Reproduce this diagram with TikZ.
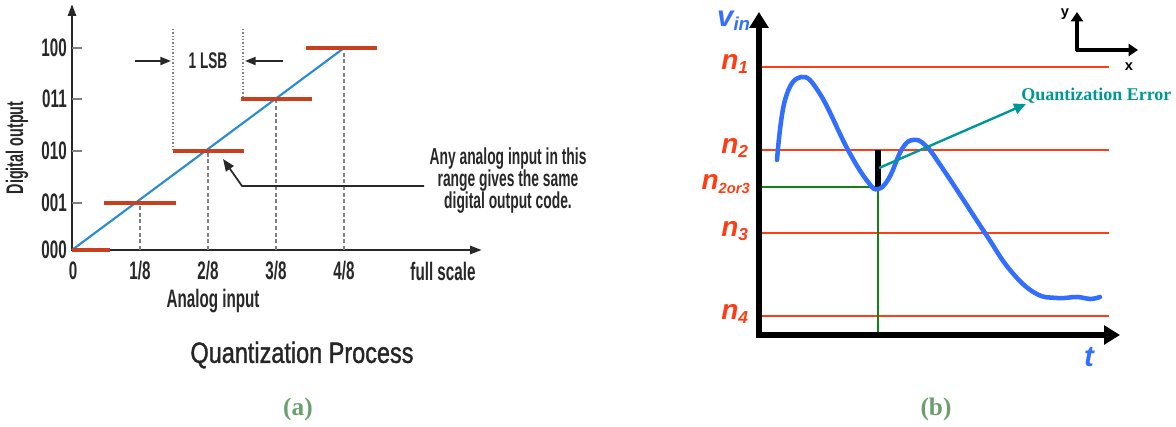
\documentclass[tikz,border=0pt]{standalone}
\usepackage{fontspec}
\setmainfont{Liberation Serif}
\newfontfamily\condb[FakeStretch=0.6]{Liberation Sans Bold}
\newfontfamily\condr[FakeStretch=0.8,FakeBold=1.2]{Liberation Sans}
\newfontfamily\arialbi{Liberation Sans Bold Italic}
\newfontfamily\arialb{Liberation Sans Bold}
\usetikzlibrary{arrows.meta}
\definecolor{barred}{RGB}{200,64,30}
\definecolor{lineblue}{RGB}{40,140,210}
\definecolor{lvlred}{RGB}{255,60,20}
\definecolor{curveblue}{RGB}{50,110,255}
\definecolor{qgreen}{RGB}{20,130,20}
\definecolor{qteal}{RGB}{0,150,150}
\definecolor{capgreen}{RGB}{105,160,110}
\definecolor{axgray}{RGB}{40,40,40}
\tikzset{
  lbl/.style={font=\condb\fontsize{19}{21}\selectfont, text=axgray, inner sep=0pt},
  bar/.style={barred, line width=3pt},
  dashv/.style={gray, line width=0.9pt, dash pattern=on 3pt off 2pt},
  dotv/.style={gray, line width=0.9pt, dash pattern=on 1pt off 1.5pt},
  lvl/.style={lvlred, line width=1.5pt},
  nlab/.style={font=\arialbi\fontsize{21}{23}\selectfont, text=lvlred, inner sep=0pt},
  caption/.style={font=\bfseries\fontsize{19}{21}\selectfont, text=capgreen, inner sep=0pt},
  bigarrow/.style={line width=4pt, -{Triangle[length=12pt,width=14pt]}},
  smallarrow/.style={line width=2.5pt, -{Triangle[length=7pt,width=9pt]}}
}
\begin{document}
\begin{tikzpicture}[x=0.75pt,y=-0.75pt]
\useasboundingbox (0,0) rectangle (1176,427);
% ---------- (a) ----------
\coordinate (O) at (72,250);
\coordinate (xend) at (482,250);
\coordinate (yend) at (72,4);
\draw[axgray, line width=2pt, -{Triangle[length=9pt,width=6pt]}] (O) -- (xend);
\draw[axgray, line width=2pt, -{Triangle[length=9pt,width=6pt]}] (72,251) -- (yend);
% ticks
\foreach \yy in {48,99,151,203} {
  \draw[gray, line width=1pt] (72,\yy) -- (82,\yy);
}
\node[lbl, anchor=east] (y100) at (67,48) {100};
\node[lbl, anchor=east] (y011) at (67,99) {011};
\node[lbl, anchor=east] (y010) at (67,151) {010};
\node[lbl, anchor=east] (y001) at (67,203) {001};
\node[lbl, anchor=east] (y000) at (67,250) {000};
\node[lbl] (x0) at (73,271) {0};
\node[lbl] (x1) at (140,271) {1/8};
\node[lbl] (x2) at (208,271) {2/8};
\node[lbl] (x3) at (276,271) {3/8};
\node[lbl] (x4) at (344,271) {4/8};
\node[lbl] (xfs) at (443,271) {full scale};
\node[lbl] (xlab) at (213,301) {Analog input};
\node[lbl, rotate=90, font=\condb\fontsize{18}{20}\selectfont] (ylab) at (17,148) {Digital output};
% dashed verticals
\draw[dashv] (140,250) -- (140,203);
\draw[dashv] (208,250) -- (208,151);
\draw[dashv] (276,250) -- (276,99);
\draw[dashv] (344,250) -- (344,48);
% dotted verticals
\draw[dotv] (173,29) -- (173,151);
\draw[dotv] (243,29) -- (243,99);
% ideal line
\draw[lineblue, line width=1.6pt] (O) -- (344,48);
% bars
\draw[bar] (72,250) -- (110,250);
\draw[bar] (104,203) -- (176,203);
\draw[bar] (173,151) -- (244,151);
\draw[bar] (241,99) -- (312,99);
\draw[bar] (306,48) -- (377,48);
% 1 LSB
\node[lbl, font=\condb\fontsize{17}{19}\selectfont] (lsb) at (208,61) {1 LSB};
\coordinate (la) at (135,61);
\coordinate (lb) at (171,61);
\coordinate (ra) at (283,61);
\coordinate (rb) at (245,61);
\draw[axgray, line width=1.5pt, -{Triangle[length=8pt,width=6pt]}] (la) -- (lb);
\draw[axgray, line width=1.5pt, -{Triangle[length=8pt,width=6pt]}] (ra) -- (rb);
% annotation
\node[lbl, align=center, font=\condb\fontsize{17.3}{16.5}\selectfont] (note) at (508,181) {Any analog input in this\\range gives the same\\digital output code.};
\coordinate (ann1) at (424,186);
\coordinate (ann2) at (242,186);
\coordinate (ann3) at (223,159);
\draw[axgray, line width=1.3pt, -{Triangle[length=9pt,width=7pt]}] (ann1) -- (ann2) -- (ann3);
\node[font=\condr\fontsize{22}{24}\selectfont, text=black!85, inner sep=0pt] (title) at (302,355) {Quantization Process};
\node[caption] (capa) at (298,409) {(a)};
% ---------- (b) ----------
\coordinate (P) at (759,335);
\draw[lvl] (759,67) -- (1109,67);
\draw[lvl] (759,150) -- (1109,150);
\draw[lvl] (759,233) -- (1109,233);
\draw[lvl] (759,316) -- (1109,316);
\node[nlab] (n1) at (735,64) {n\textsubscript{\fontsize{13}{14}\selectfont 1}};
\node[nlab] (n2) at (735,148) {n\textsubscript{\fontsize{13}{14}\selectfont 2}};
\node[nlab] (n23) at (726,184) {n\textsubscript{\fontsize{11}{12}\selectfont 2or3}};
\node[nlab] (n3) at (735,231) {n\textsubscript{\fontsize{13}{14}\selectfont 3}};
\node[nlab] (n4) at (735,314) {n\textsubscript{\fontsize{13}{14}\selectfont 4}};
% green
\coordinate (g1) at (759,187);
\coordinate (g2) at (878,187);
\coordinate (g3) at (878,335);
\draw[qgreen, line width=2pt] (g1) -- (g2) -- (g3);
% quantization error bar
\coordinate (e1) at (878,150);
\coordinate (e2) at (878,187);
\draw[black, line width=3.8pt] (e1) -- (e2);
% curve
\draw[curveblue, line width=3.4pt, line cap=round] plot[smooth, tension=0.7] coordinates {
 (777,160) (785,100) (801,77) (820,94) (848,150) (868,182) (878,189) (889,178) (902,149)
 (913,140) (926,146) (945,172) (985,233) (1010,270) (1035,293) (1057,298) (1077,297)
 (1090,299) (1100,297)};
% axes
\draw[black, bigarrow] (759,338) -- (759,12);
\draw[black, bigarrow] (757,335) -- (1120,335);
\node[font=\arialbi\fontsize{22}{24}\selectfont, text=curveblue, inner sep=0pt] (vin) at (734,21) {v\textsubscript{\fontsize{14}{15}\selectfont in}};
\node[font=\arialbi\fontsize{22}{24}\selectfont, text=curveblue, inner sep=0pt] (tl) at (1089,357) {t};
% teal arrow
\coordinate (q1) at (879,168);
\coordinate (q2) at (1026,104);
\draw[qteal, line width=1.8pt, -{Triangle[length=9pt,width=8pt]}] (q1) -- (q2);
\node[font=\bfseries\fontsize{13.5}{15}\selectfont, text=qteal, anchor=west, inner sep=0pt] (qerr) at (1021,96) {Quantization Error};
% small xy
\coordinate (c0) at (1077,50);
\coordinate (cy) at (1077,12);
\coordinate (cx) at (1138,50);
\draw[black, smallarrow] (1077,51.4) -- (cy);
\draw[black, smallarrow] (1075.6,50) -- (cx);
\node[font=\arialb\fontsize{11}{12}\selectfont, inner sep=0pt] (ylb) at (1065,14) {y};
\node[font=\arialb\fontsize{11}{12}\selectfont, inner sep=0pt] (xlb) at (1129,67) {x};
\node[caption] (capb) at (936,409) {(b)};
\end{tikzpicture}
\end{document}
